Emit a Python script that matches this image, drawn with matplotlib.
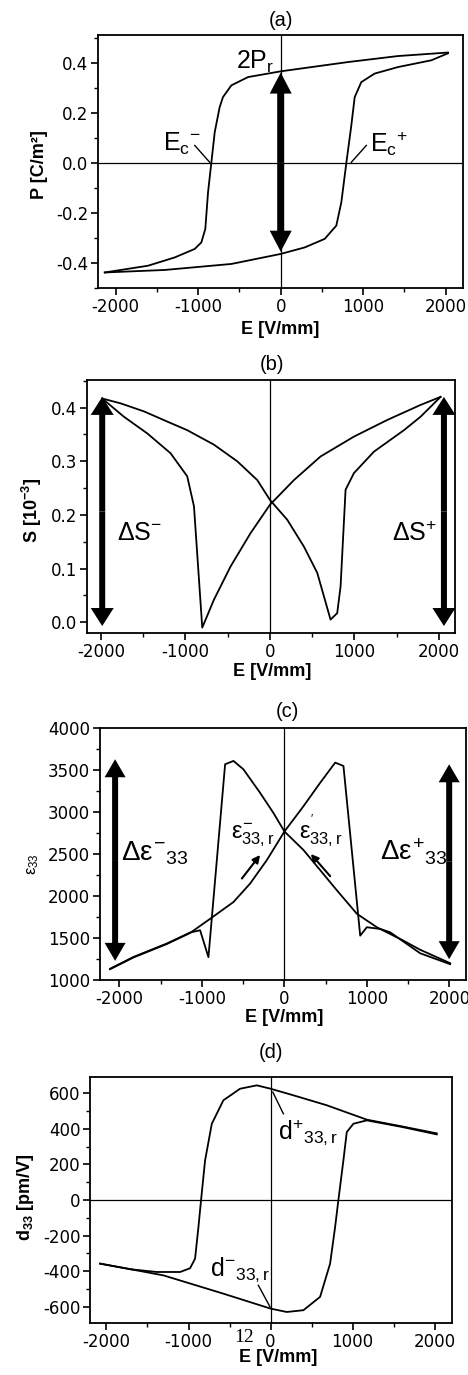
import matplotlib
matplotlib.use('Agg')
import matplotlib.pyplot as plt
from matplotlib.ticker import MultipleLocator

plt.rcParams['font.family'] = ['DejaVu Sans']
plt.rcParams['axes.unicode_minus'] = False
plt.rcParams['mathtext.fontset'] = 'custom'
plt.rcParams['mathtext.rm'] = 'Liberation Sans'
plt.rcParams['mathtext.it'] = 'Liberation Sans'
plt.rcParams['mathtext.bf'] = 'Liberation Sans:bold'

# ---------------- data ----------------
# (a) polarisation loop
a_up_E = [2028, 1422, 816, 0, -396, -598, -700, -740, -800, -841, -881, -914, -962, -1042, -1285, -1608, -2133]
a_up_P = [0.44, 0.426, 0.402, 0.365, 0.342, 0.309, 0.262, 0.222, 0.122, 0.0, -0.118, -0.264, -0.318, -0.344, -0.378, -0.411, -0.438]
a_lo_E = [-2133, -1406, -598, 0, 291, 533, 674, 735, 796, 856, 897, 977, 1139, 1422, 1826, 2028]
a_lo_P = [-0.438, -0.428, -0.404, -0.364, -0.338, -0.304, -0.251, -0.158, 0.0, 0.149, 0.262, 0.322, 0.356, 0.382, 0.409, 0.437]

# (b) strain butterfly
b_inc_E = [-1985, -1768, -1491, -1215, -979, -663, -387, -150, 0, 205, 402, 560, 717, 796, 836, 895, 994, 1231, 1586, 1782, 2019]
b_inc_S = [0.417, 0.408, 0.393, 0.374, 0.358, 0.331, 0.3, 0.265, 0.228, 0.191, 0.141, 0.092, 0.005, 0.017, 0.067, 0.247, 0.278, 0.318, 0.358, 0.383, 0.42]
b_dec_E = [2019, 1782, 1388, 994, 599, 284, 0, -230, -466, -663, -801, -899, -979, -1176, -1452, -1728, -1985]
b_dec_S = [0.42, 0.405, 0.377, 0.346, 0.309, 0.265, 0.219, 0.166, 0.104, 0.042, -0.01, 0.216, 0.272, 0.315, 0.352, 0.383, 0.417]

# (c) permittivity butterfly
c_inc_E = [-2113, -1830, -1426, -1143, -901, -618, -416, -213, 0, 230, 433, 615, 715, 918, 998, 1160, 1281, 1645, 2008]
c_inc_eps = [1128, 1268, 1428, 1560, 1728, 1928, 2148, 2428, 2768, 3068, 3348, 3588, 3548, 1528, 1628, 1608, 1568, 1318, 1188]
c_dec_E = [2008, 1645, 1442, 1120, 878, 635, 433, 230, 0, -133, -295, -497, -618, -719, -921, -1022, -1143, -1426, -1830, -2113]
c_dec_eps = [1200, 1360, 1468, 1628, 1788, 2068, 2308, 2548, 2768, 2988, 3228, 3508, 3608, 3568, 1272, 1592, 1565, 1434, 1274, 1134]

# (d) piezo coefficient loop
d_up_E = [2024, 1600, 1172, 684, 278, 0, -168, -372, -575, -716, -798, -847, -879, -920, -981, -1102, -1386, -1700, -2077]
d_up_d = [375, 414, 452, 533, 589, 626, 645, 626, 561, 429, 223, 0, -152, -330, -384, -405, -405, -390, -358]
d_lo_E = [-2077, -1700, -1306, -575, 0, 197, 400, 603, 725, 786, 826, 887, 928, 1009, 1172, 1600, 2024]
d_lo_d = [-358, -390, -424, -527, -611, -630, -620, -545, -358, -152, 0, 223, 382, 429, 448, 411, 369]

# double-arrow annotations (x, y_start, y_end)
a_arrow = (0, 0.36, -0.355)
b_arrows = [(-1985, 0.42, -0.007), (2059, 0.42, -0.007)]
c_arrows = [(-2052, 3628, 1228), (1996, 3568, 1248)]

# ---------------- figure ----------------
W, H = 468, 1375
fig = plt.figure(figsize=(W / 100, H / 100), dpi=100)
LS = 'Liberation Sans'


def add_ax(box):
    l, r, t, b = box
    return fig.add_axes([l / W, 1 - b / H, (r - l) / W, (b - t) / H])


def to_axes(box, px, py):
    l, r, t, b = box
    return (px - l) / (r - l), (b - py) / (b - t)


def style(ax, box, xlim, ylim, ymaj, ymin, title, tpos, xl_pos, ylabel, yl_pos, ylab_bold=True):
    ax.set_xlim(xlim)
    ax.set_ylim(ylim)
    ax.xaxis.set_major_locator(MultipleLocator(1000))
    ax.xaxis.set_minor_locator(MultipleLocator(500))
    ax.yaxis.set_major_locator(MultipleLocator(ymaj))
    ax.yaxis.set_minor_locator(MultipleLocator(ymin))
    ax.tick_params(which='both', direction='out', top=False, right=False, labelsize=12, pad=2)
    ax.tick_params(which='major', length=5, width=1.2)
    ax.tick_params(which='minor', length=3, width=1.0)
    for s in ax.spines.values():
        s.set_linewidth(1.3)
    tx, ty = to_axes(box, *tpos)
    ax.set_title(title, x=tx, y=ty, pad=0, va='center', ha='center', fontsize=14.5, family=LS)
    ax.set_xlabel('E [V/mm]', fontsize=13, fontweight='bold', family=LS)
    ax.xaxis.set_label_coords(*to_axes(box, *xl_pos))
    ax.xaxis.label.set_va('center')
    ax.set_ylabel(ylabel, fontsize=13 if ylab_bold else 12,
                  fontweight='bold' if ylab_bold else 'normal', family=LS)
    ax.yaxis.set_label_coords(*to_axes(box, *yl_pos))
    ax.yaxis.label.set_va('center')


def big_arrow(ax, box, x, y0, y1, shaft_px, hw_px, hl_px):
    l, r, t, b = box
    xu = (ax.get_xlim()[1] - ax.get_xlim()[0]) / (r - l)
    yu = (ax.get_ylim()[1] - ax.get_ylim()[0]) / (b - t)
    ym = 0.5 * (y0 + y1)
    for ye in (y0, y1):
        ax.arrow(x, ym, 0, ye - ym, width=shaft_px * xu, head_width=hw_px * xu,
                 head_length=hl_px * yu, length_includes_head=True,
                 fc='black', ec='none', lw=0, zorder=4)


LW = 1.3

# ---- (a) ----
box_a = (98, 463, 35, 288)
ax = add_ax(box_a)
ax.plot(a_up_E, a_up_P, color='black', lw=LW)
ax.plot(a_lo_E, a_lo_P, color='black', lw=LW)
ax.axvline(0, color='black', lw=0.9)
ax.axhline(0, color='black', lw=0.9)
style(ax, box_a, (-2215, 2210), (-0.5, 0.51), 0.2, 0.1, '(a)', (281, 21), (280, 329),
      'P [C/m²]', (40, 165))
big_arrow(ax, box_a, *a_arrow, 7, 22, 21)
ax.text(-1427, 0.049, r'$\mathrm{E}_{c}{}^{-}$', fontsize=18, ha='left', va='baseline')
ax.plot([-1042, -861], [0.069, 0.002], color='black', lw=1.0)
ax.text(1079, 0.042, r'$\mathrm{E}_{c}{}^{+}$', fontsize=18, ha='left', va='baseline')
ax.plot([1038, 856], [0.069, 0.002], color='black', lw=1.0)
ax.text(-538, 0.376, r'$2\mathrm{P}_{r}$', fontsize=18, ha='left', va='baseline')

# ---- (b) ----
box_b = (87, 455, 380, 633)
ax = add_ax(box_b)
ax.plot(b_inc_E, b_inc_S, color='black', lw=LW)
ax.plot(b_dec_E, b_dec_S, color='black', lw=LW)
ax.axvline(0, color='black', lw=0.9)
style(ax, box_b, (-2165, 2190), (-0.02, 0.4515), 0.1, 0.05, '(b)', (272, 365), (272, 672),
      r'S [10$^{\mathbf{-3}}$]', (32, 510))
for arr in b_arrows:
    big_arrow(ax, box_b, *arr, 6, 23, 18)
ax.text(-1807, 0.154, r'$\Delta\mathrm{S}^{-}$', fontsize=18, ha='left', va='baseline')
ax.text(1447, 0.151, r'$\Delta\mathrm{S}^{+}$', fontsize=18, ha='left', va='baseline')

# ---- (c) ----
box_c = (100, 466, 728, 980)
ax = add_ax(box_c)
ax.plot(c_inc_E, c_inc_eps, color='black', lw=LW)
ax.plot(c_dec_E, c_dec_eps, color='black', lw=LW)
ax.axvline(0, color='black', lw=0.9)
style(ax, box_c, (-2235, 2200), (1000, 4000), 500, 250, '(c)', (287, 711), (284, 1017),
      r'$\varepsilon_{33}$', (33, 864), ylab_bold=False)
for arr in c_arrows:
    big_arrow(ax, box_c, *arr, 6, 21, 18)
ax.text(-1983, 2428, r'$\Delta\varepsilon^{-}{}_{33}$', fontsize=20, ha='left', va='baseline')
ax.text(1160, 2428, r'$\Delta\varepsilon^{+}{}_{33}$', fontsize=20, ha='left', va='baseline')
ax.text(-650, 2688, r'$\varepsilon^{-}_{33,r}$', fontsize=17, ha='left', va='baseline')
ax.text(182, 2676, r"$\varepsilon^{'}_{33,r}$", fontsize=17, ha='left', va='baseline')
ax.annotate('', xy=(-295, 2488), xytext=(-516, 2208),
            arrowprops=dict(arrowstyle='-|>', lw=1.5, color='black', mutation_scale=11,
                            shrinkA=0, shrinkB=0))
ax.annotate('', xy=(320, 2500), xytext=(554, 2236),
            arrowprops=dict(arrowstyle='-|>', lw=1.5, color='black', mutation_scale=11,
                            shrinkA=0, shrinkB=0))

# ---- (d) ----
box_d = (90, 452, 1077, 1323)
ax = add_ax(box_d)
ax.plot(d_up_E, d_up_d, color='black', lw=LW)
ax.plot(d_lo_E, d_lo_d, color='black', lw=LW)
ax.axvline(0, color='black', lw=0.9)
ax.axhline(0, color='black', lw=0.9)
style(ax, box_d, (-2200, 2210), (-692, 692), 200, 100, '(d)', (271, 1053), (278, 1357),
      r'd$_{\mathbf{33}}$ [pm/V]', (25, 1197))
ax.text(95, 345, r'$\mathrm{d}^{+}{}_{33,r}$', fontsize=18, ha='left', va='baseline')
ax.plot([156, 27], [485, 607], color='black', lw=1.0)
ax.text(-737, -424, r'$\mathrm{d}^{-}{}_{33,r}$', fontsize=18, ha='left', va='baseline')
ax.plot([-149, -6], [-480, -602], color='black', lw=1.0)

fig.text(244 / W, 1 - 1338 / H, '12', family='Liberation Serif', fontsize=14,
         ha='center', va='center')

fig.savefig('out.png', dpi=100)
